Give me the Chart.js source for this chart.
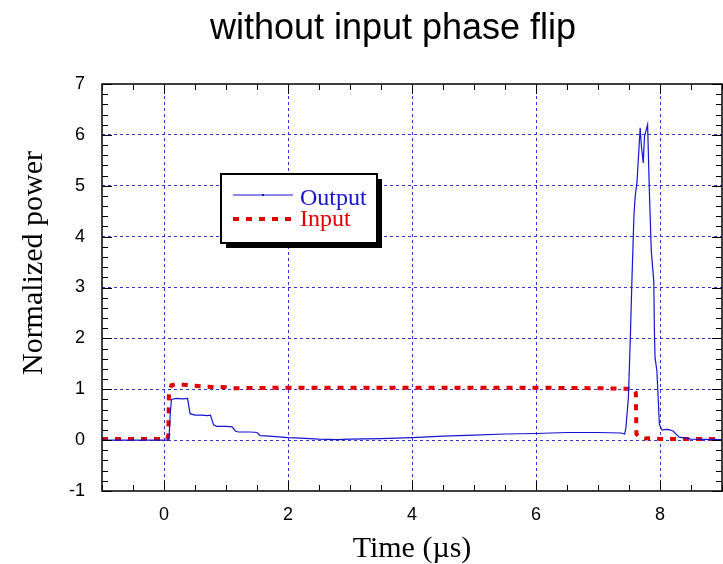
<!DOCTYPE html>
<html>
<head>
<meta charset="utf-8">
<title>without input phase flip</title>
<script src="https://cdn.jsdelivr.net/npm/chart.js@4.4.0/dist/chart.umd.min.js"></script>
<style>
  html, body { margin: 0; padding: 0; background: #fff; }
</style>
</head>
<body>
<canvas id="grafico" width="723" height="564"></canvas>
<script>
// valores (tempo em us, potencia normalizada)
var tempoSaida = [-1, 0.05, 0.08, 0.10, 0.12, 0.2, 0.3, 0.38, 0.42, 0.5, 0.6, 0.7, 0.75, 0.8, 0.85, 1.0, 1.1, 1.15, 1.2, 1.4, 1.5,
  1.55, 1.7, 1.8, 1.9, 2.0, 2.2, 2.5, 2.8, 3.0, 3.5, 4.0, 4.5, 5.0, 5.5, 6.0, 6.5, 7.0, 7.37, 7.43, 7.45, 7.49, 7.52,
  7.55, 7.58, 7.60, 7.63, 7.68, 7.70, 7.73, 7.75, 7.80, 7.83, 7.86, 7.90, 7.91, 7.92, 7.95, 7.99, 8.03, 8.13, 8.21,
  8.31, 8.5, 9];
var potSaida = [0, 0, 0.01, 0.5, 0.80, 0.82, 0.81, 0.82, 0.52, 0.49, 0.49, 0.48, 0.49, 0.30, 0.27, 0.27, 0.26, 0.18, 0.16, 0.16, 0.15,
  0.09, 0.08, 0.07, 0.06, 0.05, 0.04, 0.02, 0.01, 0.02, 0.03, 0.05, 0.08, 0.10, 0.12, 0.13, 0.15, 0.15, 0.14, 0.12, 0.24, 0.83, 1.95,
  3.26, 4.43, 4.79, 5.09, 6.14, 5.78, 5.45, 5.97, 6.2, 4.83, 3.71, 3.12, 2.14, 1.62, 1.36, 0.31, 0.2, 0.21, 0.18,
  0.06, 0.02, 0.01];

var tempoEntrada = [-1, 0.05, 0.07, 0.08, 0.12, 0.2, 0.3, 0.5, 0.66, 1.0, 1.09, 2, 3, 4, 5, 6, 7, 7.5, 7.58, 7.61, 7.62,
  7.68, 7.75, 7.91, 8.0, 9];
var potEntrada = [0.02, 0.02, 0.1, 0.93, 1.08, 1.1, 1.09, 1.07, 1.05, 1.04, 1.02, 1.03, 1.03, 1.03, 1.03, 1.03, 1.02, 1.01, 1.0, 0.93, 0.12,
  0.05, 0.03, 0.04, 0.02, 0.02];

var ticksX = [0, 2, 4, 6, 8];
var ticksY = [-1, 0, 1, 2, 3, 4, 5, 6, 7];

var fonteSans = '"Liberation Sans", Arial, sans-serif';
var fonteSerif = '"Liberation Serif", "Times New Roman", serif';
var corGrade = '#3434d6';

function montarPontos(xs, ys) {
  var pontos = [];
  for (var i = 0; i < xs.length; i++) {
    pontos.push({ x: xs[i], y: ys[i] });
  }
  return pontos;
}

// titulo e rotulo do eixo y desenhados a mao (fora do centro da area)
var textosPlugin = {
  id: 'textos',
  afterDraw: function (chart) {
    var ctx = chart.ctx;
    ctx.save();
    ctx.fillStyle = '#000';
    ctx.font = '36px ' + fonteSans;
    ctx.textAlign = 'center';
    ctx.textBaseline = 'middle';
    ctx.fillText('without input phase flip', 393, 29);

    ctx.translate(42, 263);
    ctx.rotate(-Math.PI / 2);
    ctx.font = '30px ' + fonteSerif;
    ctx.textBaseline = 'alphabetic';
    ctx.fillText('Normalized power', 0, 0);
    ctx.restore();
  }
};

// moldura preta e marcas para dentro nos quatro lados
var molduraPlugin = {
  id: 'moldura',
  afterDatasetsDraw: function (chart) {
    var ctx = chart.ctx;
    var a = chart.chartArea;
    var sx = chart.scales.x;
    var sy = chart.scales.y;
    ctx.save();
    ctx.strokeStyle = '#000';
    ctx.lineWidth = 1;
    ctx.beginPath();
    for (var k = -2; k <= 18; k++) {
      var px = Math.round(sx.getPixelForValue(k / 2)) + 0.5;
      var lx = (k % 4 === 0) ? 10 : 6;
      ctx.moveTo(px, a.bottom); ctx.lineTo(px, a.bottom - lx);
      ctx.moveTo(px, a.top); ctx.lineTo(px, a.top + lx);
    }
    for (var j = -5; j <= 35; j++) {
      var py = Math.round(sy.getPixelForValue(j / 5)) + 0.5;
      var ly = (j % 5 === 0) ? 10 : 6;
      ctx.moveTo(a.left, py); ctx.lineTo(a.left + ly, py);
      ctx.moveTo(a.right, py); ctx.lineTo(a.right - ly, py);
    }
    ctx.stroke();
    ctx.lineWidth = 1.5;
    ctx.strokeRect(a.left, a.top, a.right - a.left, a.bottom - a.top);
    ctx.restore();
  }
};

// legenda com sombra, feita a partir dos datasets
var legendaPlugin = {
  id: 'legenda',
  afterDraw: function (chart) {
    var ctx = chart.ctx;
    var x = 221, y = 174, w = 156, h = 69;
    var linhas = [195, 219];
    var bases = [205, 226];
    ctx.save();
    ctx.fillStyle = '#000';
    ctx.fillRect(x + 5, y + 5, w, h);
    ctx.fillStyle = '#fff';
    ctx.fillRect(x, y, w, h);
    ctx.strokeStyle = '#000';
    ctx.lineWidth = 2;
    ctx.strokeRect(x, y, w, h);
    chart.data.datasets.forEach(function (ds, i) {
      ctx.strokeStyle = ds.borderColor;
      ctx.lineWidth = ds.borderWidth;
      ctx.setLineDash(ds.borderDash || []);
      ctx.beginPath();
      ctx.moveTo(x + 12, linhas[i]);
      ctx.lineTo(x + 72, linhas[i]);
      ctx.stroke();
      ctx.setLineDash([]);
      if (i === 0) {
        ctx.fillStyle = ds.borderColor;
        ctx.fillRect(x + 41, linhas[i] - 1, 2, 2);
      }
      ctx.fillStyle = ds.borderColor;
      ctx.font = '24px ' + fonteSerif;
      ctx.textBaseline = 'alphabetic';
      ctx.fillText(ds.label, x + 79, bases[i]);
    });
    ctx.restore();
  }
};

var ctx = document.getElementById('grafico');

var Grafico = new Chart(ctx, {
  type: 'line',
  data: {
    datasets: [{
      label: 'Output',
      data: montarPontos(tempoSaida, potSaida),
      borderColor: '#1414d2',
      borderWidth: 1.2,
      pointRadius: 0,
      tension: 0,
      fill: false
    },
    {
      label: 'Input',
      data: montarPontos(tempoEntrada, potEntrada),
      borderColor: '#e00000',
      borderWidth: 4,
      borderDash: [6, 7],
      pointRadius: 0,
      tension: 0,
      fill: false
    }]
  },
  options: {
    responsive: false,
    animation: false,
    layout: { padding: { top: 84, right: 1, left: 0, bottom: 0 } },
    plugins: {
      legend: { display: false },
      title: { display: false },
      tooltip: { enabled: false }
    },
    scales: {
      x: {
        type: 'linear',
        min: -1,
        max: 9,
        afterBuildTicks: function (s) {
          s.ticks = ticksX.map(function (v) { return { value: v }; });
        },
        afterFit: function (s) { s.height = 73; },
        grid: { color: corGrade, lineWidth: 1, drawTicks: false },
        border: { display: false, dash: [3, 3] },
        ticks: { padding: 13, color: '#000', font: { family: fonteSans, size: 18 } },
        title: {
          display: true,
          text: 'Time (\u00b5s)',
          color: '#000',
          font: { family: fonteSerif, size: 30, lineHeight: 1 },
          padding: { top: 0, bottom: 0 }
        }
      },
      y: {
        type: 'linear',
        min: -1,
        max: 7,
        afterBuildTicks: function (s) {
          s.ticks = ticksY.map(function (v) { return { value: v }; });
        },
        afterFit: function (s) { s.width = 102; },
        grid: {
          color: function (c) {
            if (c.tick && (c.tick.value === -1 || c.tick.value === 7)) return 'rgba(0,0,0,0)';
            return corGrade;
          },
          lineWidth: 1,
          drawTicks: false
        },
        border: { display: false, dash: [3, 3] },
        ticks: { padding: 17, color: '#000', font: { family: fonteSans, size: 18 } },
        title: { display: false }
      }
    }
  },
  plugins: [textosPlugin, molduraPlugin, legendaPlugin]
});
</script>
</body>
</html>
